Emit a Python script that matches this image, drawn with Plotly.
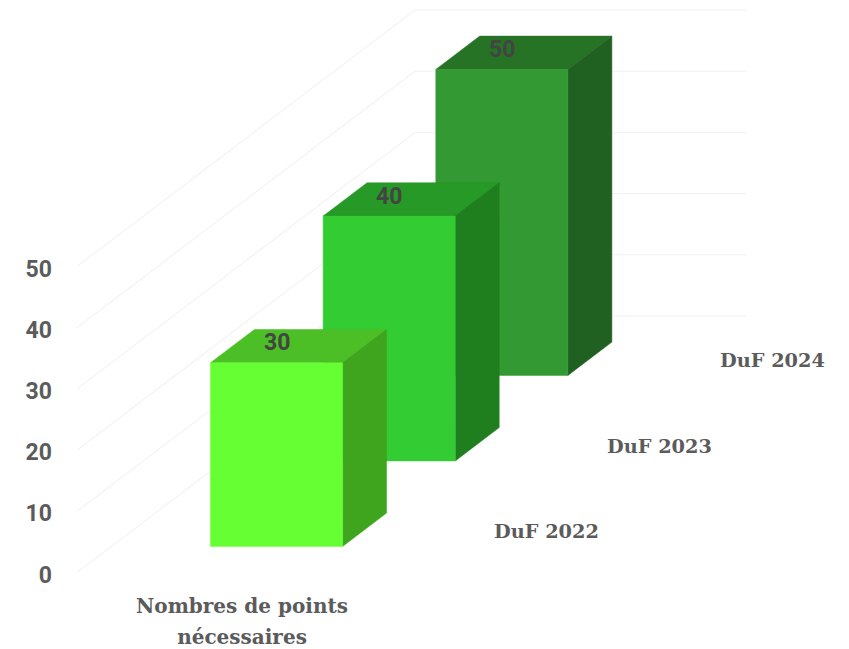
import plotly.graph_objects as go

category = "Nombres de points<br>nécessaires"
series_names = ["DuF 2022", "DuF 2023", "DuF 2024"]
series_values = [30, 40, 50]
front_colors = ["#66ff33", "#33cc33", "#339933"]
side_colors = ["#3fa51f", "#1f7f1f", "#206020"]
top_colors = ["#4dbf26", "#269926", "#267326"]
value_ticks = [0, 10, 20, 30, 40, 50]

W, H = 841, 641
L, B = 45, 580          # plot-area left edge and bottom edge (px)
X0, XW = 69, 332        # front plane
Y0, YU = 564.5, 6.12    # value 0 pixel, pixels per unit
DX, DY = 338, 256.5     # depth vector (px)
BAR_C = 0.4975          # bar centre along the category axis
BAR_W = 0.398
BAR_D = 0.39


def proj(x, v, z):
    """Oblique projection of (category pos, value, depth) on the flat axes."""
    return x + z * DX / XW, v + z * DY / YU


def poly(fig, pts, color):
    xy = [proj(*p) for p in pts]
    xs = [a for a, _ in xy] + [xy[0][0]]
    ys = [b for _, b in xy] + [xy[0][1]]
    fig.add_trace(go.Scatter(x=xs, y=ys, mode="lines", fill="toself", fillcolor=color,
                             line=dict(width=0.5, color=color), hoverinfo="skip", showlegend=False))


def seg(fig, a, b, color):
    pa, pb = proj(*a), proj(*b)
    fig.add_trace(go.Scatter(x=[pa[0], pb[0]], y=[pa[1], pb[1]], mode="lines",
                             line=dict(width=1, color=color), hoverinfo="skip", showlegend=False))


fig = go.Figure()

for t in value_ticks:
    seg(fig, (0, t, 0), (0, t, 1), "#eeeeee")
    seg(fig, (0, t, 1), (1, t, 1), "#f1f1f1")

n = len(series_values)
annotations = []
for i in reversed(range(n)):
    v = series_values[i]
    z0 = (i + 0.5 - BAR_D / 2) / n
    z1 = (i + 0.5 + BAR_D / 2) / n
    x0, x1 = BAR_C - BAR_W / 2, BAR_C + BAR_W / 2
    poly(fig, [(x0, v, z0), (x1, v, z0), (x1, v, z1), (x0, v, z1)], top_colors[i])
    poly(fig, [(x1, 0, z0), (x1, 0, z1), (x1, v, z1), (x1, v, z0)], side_colors[i])
    poly(fig, [(x0, 0, z0), (x1, 0, z0), (x1, v, z0), (x0, v, z0)], front_colors[i])

for i in range(n):
    v = series_values[i]
    z0 = (i + 0.5 - BAR_D / 2) / n
    ax, ay = proj(BAR_C, v, z0)
    annotations.append(dict(x=ax, y=ay, text=str(v), showarrow=False, xanchor="center", yanchor="middle",
                            yshift=20,
                            font=dict(family="Roboto", size=23, color="#444444", weight="bold")))
    lx, ly = proj(1, 0, (i + 0.5) / n)
    annotations.append(dict(x=lx, y=ly, text=series_names[i], showarrow=False, xanchor="left", yanchor="middle",
                            xshift=27, yshift=-2,
                            font=dict(family="DejaVu Serif", size=19.3, color="#5b5b5b", weight="bold")))

fig.update_layout(
    width=W, height=H, margin=dict(l=L, r=0, t=0, b=H - B),
    paper_bgcolor="white", plot_bgcolor="white", showlegend=False,
    annotations=annotations,
    xaxis=dict(range=[(L - X0) / XW, (W - X0) / XW], tickvals=[0.497], automargin=False,
               ticktext=['<span style="font-size:20px">' + category.replace("<br>", '</span><br><span style="font-size:20px">') + "</span>"],
               tickfont=dict(family="DejaVu Serif", size=24, color="#5b5b5b", weight="bold"),
               showgrid=False, zeroline=False, showline=False, ticks="", tickangle=0),
    yaxis=dict(range=[(Y0 - B) / YU, Y0 / YU], tickvals=value_ticks, ticktext=[str(t) for t in value_ticks],
               automargin=False,
               tickfont=dict(family="Roboto", size=23, color="#5b5b5b", weight="bold"),
               ticklabelshift=2,
               showgrid=False, zeroline=False, showline=False, ticks=""),
)
fig.write_html("out.html")
